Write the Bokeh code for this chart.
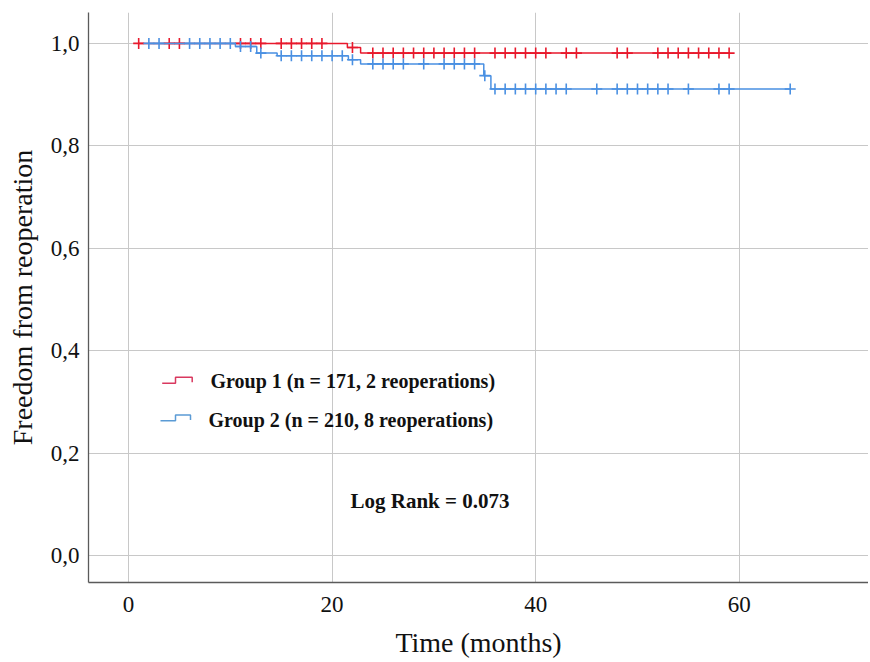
from bokeh.plotting import figure
from bokeh.models import Range1d, FixedTicker, CustomJSTickFormatter
from bokeh.core.properties import value
from bokeh.embed import file_html
from bokeh.resources import INLINE

# ---------------- data ----------------
# Group 1 (red): start, event times with survival level after each event, end
g1_start = 1
g1_event_times = [21.5, 22.8]
g1_event_levels = [0.992, 0.981]
g1_end = 59
g1_censor = [1, 4, 5, 11, 12, 13, 15, 16, 17, 18, 19, 22,
             24, 25, 26, 27, 28, 29, 30, 31, 32, 33, 34,
             36, 37, 38, 39, 40, 41, 43, 44, 48, 49,
             52, 53, 54, 55, 56, 57, 58, 59]

# Group 2 (blue)
g2_start = 2
g2_event_times = [10.5, 12.6, 14.6, 21.6, 22.8, 34.9, 35.6]
g2_event_levels = [0.994, 0.981, 0.976, 0.968, 0.960, 0.937, 0.911]
g2_end = 65
g2_censor = [2, 3, 6, 7, 8, 9, 10, 11, 12, 13, 15, 16, 17, 18, 19, 20, 21, 22,
             24, 25, 26, 27, 29, 31, 32, 33, 34, 35,
             36, 37, 38, 39, 40, 41, 42, 43, 46, 48, 49, 50, 51, 52, 53,
             55, 58, 59, 65]

x_ticks = [0, 20, 40, 60]
y_ticks = [0.0, 0.2, 0.4, 0.6, 0.8, 1.0]
y_tick_labels = ["0,0", "0,2", "0,4", "0,6", "0,8", "1,0"]

legend_labels = ["Group 1 (n = 171, 2 reoperations)",
                 "Group 2 (n = 210, 8 reoperations)"]
log_rank_text = "Log Rank = 0.073"
x_label = "Time (months)"
y_label = "Freedom from reoperation"

# ---------------- styles ----------------
RED = "#e8192c"
BLUE = "#4a90e2"
RED_ICON = "#d9385f"
BLUE_ICON = "#5b9bd5"
SERIF = "Liberation Serif"

# pixel geometry helpers (page pixels -> data)
X0_PX, X_PX_PER = 128.0, 10.18
Y0_PX, Y_PX_PER = 557.0, 514.0
def px2x(px):
    return (px - X0_PX) / X_PX_PER
def py2y(py):
    return (Y0_PX - py) / Y_PX_PER


def km_steps(start, times, levels, end):
    xs = [start] + list(times) + [end]
    ys = [1.0] + list(levels) + [levels[-1]]
    return xs, ys


def level_at(t, times, levels):
    lv = 1.0
    for et, l in zip(times, levels):
        if t >= et:
            lv = l
    return lv


p = figure(width=868, height=660, output_backend="svg", toolbar_location=None,
           x_range=Range1d(px2x(88), px2x(868)),
           y_range=Range1d(py2y(584), py2y(12)),
           min_border_left=88, min_border_right=0, min_border_top=12,
           min_border_bottom=76)
p.outline_line_color = None
p.background_fill_color = "white"

p.xaxis.ticker = FixedTicker(ticks=x_ticks)
p.yaxis.ticker = FixedTicker(ticks=y_ticks)
p.yaxis.formatter = CustomJSTickFormatter(
    args=dict(vals=y_ticks, labs=y_tick_labels),
    code="""
    for (let i = 0; i < vals.length; i++) {
        if (Math.abs(vals[i] - tick) < 1e-9) { return labs[i]; }
    }
    return tick.toFixed(1).replace('.', ',');
    """)

for ax in (p.xaxis, p.yaxis):
    ax.axis_line_color = "#5a5a5a"
    ax.axis_line_width = 1.3
    ax.major_tick_line_color = None
    ax.minor_tick_line_color = None
    ax.major_label_text_font = SERIF
    ax.major_label_text_font_size = "23px"
    ax.major_label_text_color = "#111111"
    ax.axis_label_text_font = SERIF
    ax.axis_label_text_font_size = "28px"
    ax.axis_label_text_font_style = "normal"
    ax.axis_label_text_color = "#111111"

p.xaxis.axis_label = x_label
p.yaxis.axis_label = y_label
p.xaxis.major_label_standoff = 8
p.xaxis.axis_label_standoff = 12
p.yaxis.major_label_standoff = 3
p.yaxis.axis_label_standoff = 10

p.xgrid.grid_line_color = "#c8c8c8"
p.ygrid.grid_line_color = "#c8c8c8"
p.xgrid.grid_line_width = 1
p.ygrid.grid_line_width = 1

# curves
for start, times, levels, end, censor, col in (
        (g1_start, g1_event_times, g1_event_levels, g1_end, g1_censor, RED),
        (g2_start, g2_event_times, g2_event_levels, g2_end, g2_censor, BLUE)):
    xs, ys = km_steps(start, times, levels, end)
    p.step(xs, ys, mode="after", line_color=col, line_width=1.5)
    cy = [level_at(t, times, levels) for t in censor]
    p.scatter(censor, cy, marker="cross", size=11, line_color=col,
              line_width=1.6)

# legend (drawn manually: step-shaped icons)
icon_red_px = [(161.7, 384), (175, 384), (175, 378), (191.7, 378), (191.7, 383)]
icon_blue_px = [(160, 421.7), (175, 421.7), (175, 416), (190, 416), (190, 421)]
for pts, col in ((icon_red_px, RED_ICON), (icon_blue_px, BLUE_ICON)):
    p.line([px2x(a) for a, b in pts], [py2y(b) for a, b in pts],
           line_color=col, line_width=1.5)

p.text(x=[px2x(210), px2x(208)], y=[py2y(382), py2y(420.5)],
       text=legend_labels, text_font=value(SERIF), text_font_style="bold",
       text_font_size="20px", text_align="left", text_baseline="middle",
       text_color="#111111")
p.text(x=[px2x(350)], y=[py2y(502)], text=[log_rank_text],
       text_font=value(SERIF), text_font_style="bold", text_font_size="21px",
       text_align="left", text_baseline="middle", text_color="#111111")

open("out.html", "w").write(file_html(p, INLINE))
